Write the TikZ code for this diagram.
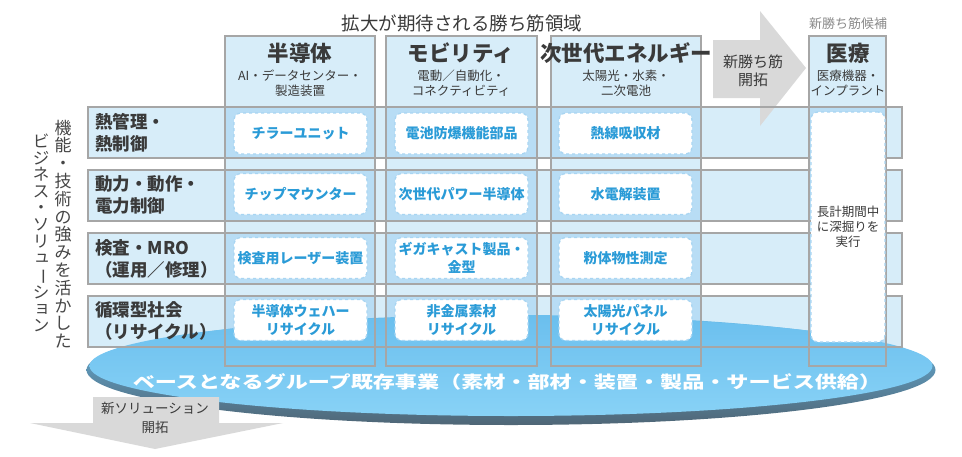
\documentclass[tikz,border=0pt]{standalone}
\usepackage{fontspec}
\usepackage{graphicx}
\setmainfont{Noto Sans CJK JP}
\usetikzlibrary{shapes.geometric}
\definecolor{boxfill}{HTML}{D7EDF9}
\definecolor{overlapfill}{HTML}{B8DDF5}
\definecolor{bordergray}{HTML}{A6A6A6}
\definecolor{textblue}{HTML}{2A9BD7}
\definecolor{darktext}{HTML}{3A3A3A}
\definecolor{arrowgray}{HTML}{D9D9D9}
\definecolor{dashblue}{HTML}{A8D5F2}
\definecolor{facetop}{HTML}{6BBFEE}
\definecolor{facebot}{HTML}{88D2F6}
\definecolor{rimbot}{HTML}{4F6676}
\definecolor{candgray}{HTML}{8A8A8A}
\definecolor{verttext}{HTML}{454545}
\newcommand{\vbar}{\rotatebox[origin=c]{-90}{ー}}
\newcommand{\smallk}[1]{\raisebox{1.5pt}{\hspace{2pt}#1}}
\begin{document}
\begin{tikzpicture}[x=1pt,y=-1pt,
  areabox/.style={draw=none, fill=boxfill, inner sep=0pt, outer sep=0pt, anchor=north west},
  frameline/.style={draw=bordergray, line width=2.2pt},
  wbox/.style={fill=white, draw=dashblue, dashed, line width=1.3pt, rounded corners=7pt,
     inner sep=0pt, minimum width=133pt, minimum height=41pt, align=center,
     text=textblue, font=\bfseries\fontsize{14}{18}\selectfont},
  hdr/.style={text=darktext, font=\bfseries\fontsize{21.5}{24}\selectfont, inner sep=0pt},
  subhdr/.style={text=darktext, font=\fontsize{12.5}{14.5}\selectfont, align=center, inner sep=0pt},
  rowlab/.style={text=darktext, font=\bfseries\fontsize{17.5}{22}\selectfont, align=left, anchor=west, inner sep=0pt},
  vtext/.style={text=verttext, font=\fontsize{17}{17.8}\selectfont, align=center, inner sep=0pt},
  arrowtxt/.style={text=darktext, align=center, inner sep=0pt}
]
\useasboundingbox (0,0) rectangle (962,456);

% columns and rows (fills)
\node[areabox, minimum width=150pt, minimum height=330pt] (c1) at (225,36) {};
\node[areabox, minimum width=151pt, minimum height=330pt] (c2) at (386,36) {};
\node[areabox, minimum width=150pt, minimum height=330pt] (c3) at (551,36) {};
\node[areabox, minimum width=77pt, minimum height=330pt] (c4) at (809,36) {};
\node[areabox, minimum width=814pt, minimum height=51pt] (r1) at (88,107) {};
\node[areabox, minimum width=814pt, minimum height=51pt] (r2) at (88,170) {};
\node[areabox, minimum width=814pt, minimum height=51pt] (r3) at (88,233) {};
\node[areabox, minimum width=814pt, minimum height=51pt] (r4) at (88,296) {};
\foreach \c in {c1,c2,c3,c4}
  \foreach \r in {r1,r2,r3,r4}
    \fill[overlapfill] (\c.west |- \r.north) rectangle (\c.east |- \r.south);

% arrow to new candidate
\coordinate (ra1) at (713,40);
\coordinate (ra2) at (760,40);
\coordinate (ra3) at (760,11);
\coordinate (ratip) at (806,68);
\coordinate (ra5) at (760,126);
\coordinate (ra6) at (760,98);
\coordinate (ra7) at (713,98);
\fill[arrowgray] (ra1) -- (ra2) -- (ra3) -- (ratip) -- (ra5) -- (ra6) -- (ra7) -- cycle;

% base ellipse
\node[ellipse, minimum width=849pt, minimum height=110pt, inner sep=0pt, draw=none,
      top color=facetop, bottom color=rimbot] (rim) at (511,370) {};
\node[ellipse, minimum width=843pt, minimum height=100pt, inner sep=0pt, draw=none,
      top color=facetop, bottom color=facebot] (base) at (511,366) {};

% frames
\foreach \n in {c1,c2,c3,c4,r1,r2,r3,r4}
  \draw[frameline] (\n.north west) rectangle (\n.south east);

% bottom arrow
\coordinate (ba1) at (93,397);
\coordinate (ba2) at (219,397);
\coordinate (ba3) at (219,423);
\coordinate (ba4) at (283,423);
\coordinate (batip) at (155,449);
\coordinate (ba6) at (30,423);
\coordinate (ba7) at (93,423);
\fill[arrowgray] (ba1) -- (ba2) -- (ba3) -- (ba4) -- (batip) -- (ba6) -- (ba7) -- cycle;

% white dashed boxes
\node[wbox] (b11) at (300.5,133.5) {チラーユニット};
\node[wbox] (b12) at (461.5,133.5) {電池防爆機能部品};
\node[wbox] (b13) at (625.5,133.5) {熱線吸収材};
\node[wbox] (b21) at (300.5,194) {チップマウンター};
\node[wbox] (b22) at (461.5,194) {次世代パワー半導体};
\node[wbox] (b23) at (625.5,194) {水電解装置};
\node[wbox] (b31) at (300.5,258) {検査用レーザー装置};
\node[wbox] (b32) at (461.5,258) {ギガキャスト製品・\\金型};
\node[wbox] (b33) at (625.5,258) {粉体物性測定};
\node[wbox] (b41) at (300.5,320) {半導体ウェハー\\リサイクル};
\node[wbox] (b42) at (461.5,320) {非金属素材\\リサイクル};
\node[wbox] (b43) at (625.5,320) {太陽光パネル\\リサイクル};
\node[wbox, minimum width=74pt, minimum height=230pt, text=darktext,
      font=\fontsize{12.5}{15}\selectfont] (bmed) at (848,227)
      {長計期間中\\に深掘りを\\実行};

% titles
\node[text=darktext, font=\fontsize{18.5}{20}\selectfont, inner sep=0pt] (title) at (462,23) {拡大が期待される勝ち筋領域};
\node[text=candgray, font=\fontsize{13}{14}\selectfont, inner sep=0pt] (cand) at (848,24) {新勝ち筋候補};

\node[hdr] (h1) at (300,53) {半導体};
\node[hdr] (h2) at (461,53) {モビリティ};
\node[hdr] (h3) at (626,53) {次世代エネルギー};
\node[hdr] (h4) at (848,53) {医療};
\node[subhdr] (s1) at (300,83) {AI・データセンター・\\製造装置};
\node[subhdr] (s2) at (461,83) {電動／自動化・\\コネクティビティ};
\node[subhdr] (s3) at (626,83) {太陽光・水素・\\二次電池};
\node[subhdr] (s4) at (848,83) {医療機器・\\インプラント};

% row labels
\node[rowlab] (l1) at (95,133) {熱管理・\\熱制御};
\node[rowlab] (l2) at (95,195) {動力・動作・\\電力制御};
\node[rowlab] (l3) at (95,259) {検査・MRO\\（運用／修理）};
\node[rowlab] (l4) at (95,321) {循環型社会\\（リサイクル）};

% vertical texts
\node[vtext] (v1) at (63,234) {機\\能\\・\\技\\術\\の\\強\\み\\を\\活\\か\\し\\た};
\node[vtext, font=\fontsize{16.5}{16.6}\selectfont] (v2) at (41,233) {ビ\\ジ\\ネ\\ス\\・\\ソ\\リ\\\smallk{ュ}\\\vbar\\シ\\\smallk{ョ}\\ン};

% arrow texts
\node[arrowtxt, font=\fontsize{15}{18.5}\selectfont] (newwin) at (753,71) {新勝ち筋\\開拓};
\node[arrowtxt, font=\fontsize{13.5}{19}\selectfont] (newsol) at (155,418) {新ソリューション\\開拓};

% base text
\node[text=white, font=\bfseries\fontsize{17}{17}\selectfont, inner sep=0pt] (basetext) at (507,382)
  {\scalebox{1.3}[1]{ベースとなるグループ既存事業（素材・部材・装置・製品・サービス供給）}};
\end{tikzpicture}
\end{document}
